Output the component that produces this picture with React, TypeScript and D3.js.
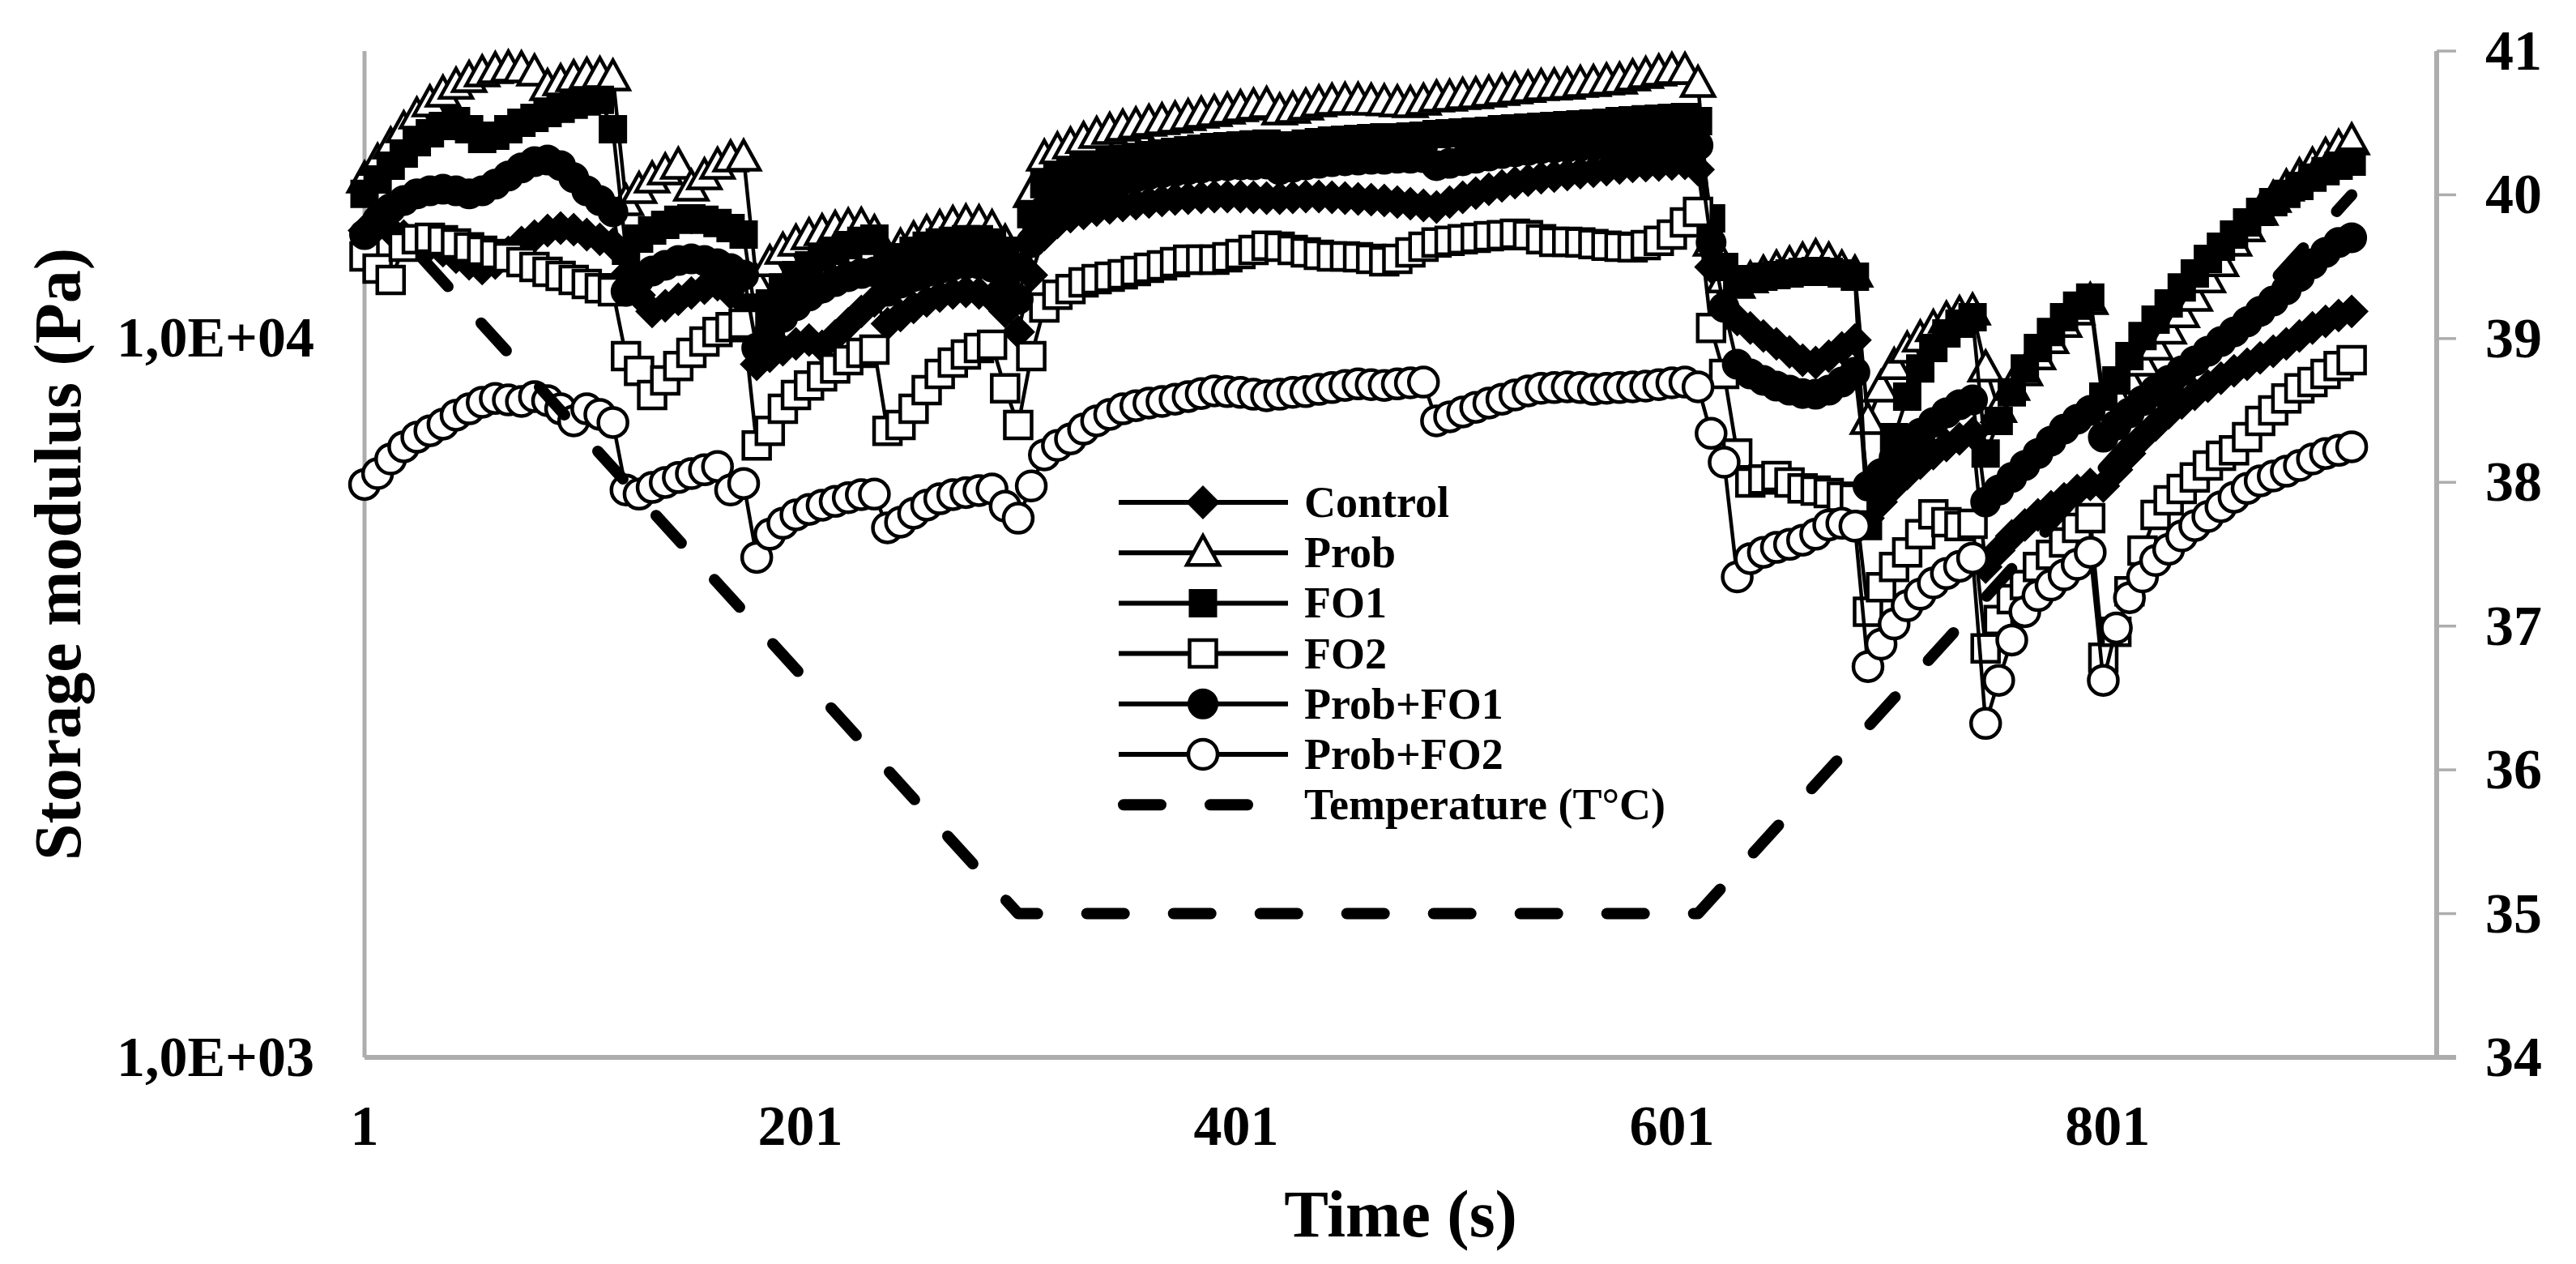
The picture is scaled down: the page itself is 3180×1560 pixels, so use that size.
import React from 'react';
import * as d3 from 'd3';

// ---------- DATA ----------
// Measurement grid: one point every 6 s starting at t = 1 s (153 points)
const time: number[] = d3.range(153).map((i) => 1 + 6 * i);

const control: number[] = [
  14080, 14270, 14080, 13830, 13620, 13440, 13200, 12930, 12660, 12470,
  12690, 13130, 13550, 13830, 14080, 14190, 14120, 13900, 13690, 13480,
  12210, 11450, 10870, 11070, 11300, 11530, 11710, 11840, 11530, 11240,
  9180, 9420, 9620, 9800, 9920, 9720, 10050, 10450, 10870, 11240,
  10450, 10730, 11010, 11240, 11420, 11530, 11590, 11530, 11360, 10870,
  10180, 12210, 13900, 14450, 14720, 14870, 15030, 15140, 15260, 15340,
  15420, 15500, 15580, 15620, 15660, 15700, 15700, 15700, 15660, 15620,
  15620, 15660, 15700, 15700, 15660, 15620, 15580, 15540, 15500, 15420,
  15340, 15260, 15180, 15420, 15660, 15870, 16070, 16240, 16410, 16540,
  16670, 16760, 16850, 16940, 17020, 17110, 17200, 17290, 17330, 17370,
  17420, 17460, 17110, 12530, 10730, 10590, 10310, 10050, 9800, 9550,
  9300, 9230, 9420, 9670, 9920, 5610, 5910, 6220, 6470, 6690,
  6900, 7080, 7230, 7360, 4800, 5060, 5300, 5490, 5670, 5820,
  5970, 6130, 6250, 6220, 6550, 6900, 7270, 7560, 7860, 8110,
  8340, 8560, 8780, 8990, 9180, 9370, 9570, 9800, 10050, 10310,
  10530, 10730, 10870,
];

const prob: number[] = [
  16580, 17550, 18490, 19470, 20350, 21160, 21820, 22390, 22870, 23290,
  23530, 23650, 23590, 23350, 22280, 22630, 22930, 23110, 23170, 22990,
  15420, 16030, 16580, 17020, 17330, 16160, 16760, 17330, 17740, 17780,
  11900, 12690, 13200, 13550, 13830, 14010, 14160, 14270, 14300, 13970,
  12930, 13370, 13690, 13970, 14190, 14380, 14450, 14420, 14190, 13550,
  12860, 15830, 17780, 18200, 18490, 18820, 19120, 19370, 19570, 19720,
  19880, 19980, 20090, 20240, 20400, 20510, 20670, 20830, 20940, 21050,
  20620, 20730, 20940, 21160, 21270, 21330, 21330, 21270, 21220, 21160,
  21110, 21270, 21490, 21540, 21660, 21710, 21820, 21940, 22050, 22160,
  22280, 22330, 22390, 22510, 22570, 22690, 22750, 22990, 23170, 23350,
  23470, 23470, 22510, 13550, 12050, 11840, 12050, 12270, 12470, 12630,
  12790, 12930, 12790, 12470, 12270, 7660, 8500, 9130, 9620, 9970,
  10310, 10590, 10780, 10870, 9060, 7960, 8540, 8950, 9420, 9920,
  10450, 10870, 11240, 8065, 8280, 8720, 9230, 9720, 10230, 10780,
  11360, 12050, 12690, 13550, 14190, 14950, 15580, 16160, 16760, 17330,
  17880, 18350, 18730,
];

const fo1: number[] = [
  15830, 16580, 17330, 18010, 18680, 19220, 19670, 19980, 19470, 18870,
  19070, 19470, 19880, 20190, 20510, 20780, 21050, 21270, 21380, 19470,
  13200, 13720, 14080, 14340, 14570, 14640, 14570, 14420, 14190, 13900,
  10450, 11150, 11740, 12210, 12600, 12930, 13200, 13440, 13620, 13720,
  12530, 12930, 13200, 13410, 13550, 13620, 13690, 13690, 13550, 13200,
  12530, 14840, 16330, 16760, 17020, 17200, 17370, 17550, 17690, 17820,
  17920, 18010, 18110, 18200, 18300, 18390, 18440, 18490, 18540, 18590,
  18390, 18490, 18590, 18680, 18780, 18820, 18870, 18920, 18970, 18970,
  19020, 19070, 19170, 19220, 19270, 19320, 19370, 19470, 19520, 19570,
  19620, 19670, 19720, 19770, 19820, 19880, 19980, 20030, 20090, 20140,
  20190, 20240, 19980, 14640, 12530, 11900, 12050, 12150, 12210, 12270,
  12340, 12370, 12340, 12270, 12150, 5470, 6220, 7270, 8280, 9060,
  9670, 10130, 10450, 10670, 6900, 7660, 8390, 9060, 9670, 10180,
  10670, 11070, 11360, 8280, 8720, 9420, 10050, 10590, 11150, 11740,
  12270, 12860, 13370, 13900, 14450, 14950, 15420, 15830, 16240, 16670,
  17020, 17330, 17550,
];

const fo2: number[] = [
  12960, 12470, 12020, 13370, 13690, 13760, 13650, 13510, 13340, 13200,
  13060, 12930, 12730, 12530, 12340, 12180, 12020, 11870, 11710, 11590,
  9420, 8990, 8320, 8720, 9130, 9520, 9870, 10180, 10340, 10450,
  7080, 7420, 7960, 8320, 8580, 8830, 9060, 9300, 9520, 9620,
  7420, 7560, 7960, 8450, 8900, 9230, 9470, 9670, 9770, 8500,
  7560, 9420, 11010, 11470, 11680, 11930, 12050, 12150, 12240, 12370,
  12500, 12600, 12730, 12830, 12830, 12830, 12930, 13060, 13230, 13410,
  13370, 13230, 13130, 13030, 12960, 12960, 12930, 12860, 12760, 12860,
  13130, 13370, 13550, 13620, 13690, 13760, 13830, 13870, 13940, 13870,
  13690, 13580, 13580, 13550, 13480, 13410, 13370, 13340, 13440, 13620,
  13900, 14450, 14950, 10310, 8900, 6900, 6290, 6350, 6420, 6290,
  6170, 6130, 6080, 6010, 5970, 4160, 4500, 4800, 5030, 5330,
  5680, 5540, 5470, 5510, 3700, 4050, 4330, 4530, 4800, 4990,
  5190, 5440, 5610, 3590, 3900, 4440, 5060, 5670, 5940, 6160,
  6390, 6640, 6850, 6970, 7270, 7660, 7920, 8230, 8500, 8670,
  8900, 9130, 9300,
];

const probFo1: number[] = [
  13900, 14570, 15110, 15500, 15830, 15990, 16070, 15990, 15830, 15990,
  16330, 16760, 17200, 17550, 17640, 17330, 16670, 15990, 15500, 14950,
  11590, 12050, 12370, 12600, 12790, 12860, 12790, 12660, 12470, 12210,
  9670, 10180, 10670, 11070, 11420, 11710, 11960, 12150, 12270, 12340,
  11590, 11900, 12150, 12340, 12470, 12600, 12660, 12660, 12530, 12050,
  11300, 13550, 15030, 15500, 15830, 16030, 16240, 16410, 16580, 16710,
  16850, 16940, 17020, 17110, 17200, 17290, 17330, 17370, 17370, 17420,
  17110, 17240, 17370, 17460, 17550, 17600, 17640, 17690, 17690, 17740,
  17740, 17780, 17330, 17460, 17600, 17740, 17870, 18010, 18110, 18200,
  18300, 18350, 18390, 18440, 18490, 18540, 18590, 18630, 18680, 18730,
  18780, 18820, 18490, 13550, 11010, 9180, 8900, 8720, 8560, 8450,
  8360, 8340, 8450, 8670, 8950, 6220, 6470, 6810, 7120, 7360,
  7620, 7860, 8065, 8190, 5910, 6140, 6390, 6640, 6900, 7180,
  7460, 7700, 7920, 7270, 7560, 7860, 8170, 8450, 8720, 8990,
  9280, 9570, 9870, 10180, 10510, 10870, 11240, 11650, 12150, 12660,
  13130, 13550, 13760,
];

const probFo2: number[] = [
  6250, 6470, 6780, 7050, 7270, 7420, 7580, 7800, 7960, 8130,
  8230, 8190, 8150, 8280, 8170, 7960, 7660, 7960, 7820, 7620,
  6140, 6060, 6190, 6290, 6390, 6470, 6550, 6620, 6140, 6270,
  4950, 5330, 5520, 5670, 5770, 5850, 5920, 5990, 6050, 6060,
  5440, 5540, 5700, 5850, 5970, 6050, 6090, 6130, 6160, 5830,
  5610, 6220, 6870, 7080, 7230, 7460, 7660, 7820, 7960, 8040,
  8110, 8150, 8210, 8280, 8360, 8430, 8410, 8390, 8340, 8300,
  8340, 8390, 8410, 8470, 8520, 8580, 8620, 8600, 8580, 8620,
  8650, 8670, 7660, 7760, 7880, 8000, 8110, 8210, 8320, 8430,
  8500, 8520, 8540, 8520, 8470, 8500, 8520, 8540, 8560, 8600,
  8650, 8670, 8540, 7360, 6710, 4650, 4930, 5030, 5110, 5160,
  5230, 5330, 5490, 5520, 5470, 3490, 3750, 4000, 4240, 4400,
  4560, 4700, 4810, 4940, 2910, 3340, 3800, 4160, 4380, 4530,
  4680, 4840, 5030, 3340, 3950, 4350, 4650, 4900, 5080, 5300,
  5480, 5640, 5820, 6000, 6170, 6320, 6420, 6520, 6640, 6780,
  6900, 6970, 7050,
];

// Temperature program (secondary axis)
const tempTime: number[] = [1, 301, 613, 913];
const tempValues: number[] = [40, 35, 35, 40];

// Axis ticks
const xTicks: number[] = [1, 201, 401, 601, 801];
const yTicks: number[] = [1000, 10000];
const yTickLabels: string[] = ['1,0E+03', '1,0E+04'];
const tTicks: number[] = [34, 35, 36, 37, 38, 39, 40, 41];

const seriesNames: string[] = ['Control', 'Prob', 'FO1', 'FO2', 'Prob+FO1', 'Prob+FO2'];
const seriesMarkers: string[] = ['diamond', 'triangle', 'square', 'square', 'circle', 'circle'];
const seriesFilled: boolean[] = [true, false, true, false, true, false];
const seriesValues: number[][] = [control, prob, fo1, fo2, probFo1, probFo2];
const tempName = 'Temperature (T°C)';

// ---------- LAYOUT ----------
const W = 3180;
const H = 1560;
const PL = 450;
const PR = 3008;
const PT = 63;
const PB = 1305;
const FONT = '"Liberation Serif", "Times New Roman", serif';
const AXIS_GRAY = '#ADADAD';

const x = d3.scaleLinear().domain([1, 952]).range([PL, PR]);
const y = d3.scaleLog().domain([1000, 25000]).range([PB, PT]);
const yT = d3.scaleLinear().domain([34, 41]).range([PB, PT]);

function Marker({ kind, filled, cx, cy }: { kind: string; filled: boolean; cx: number; cy: number }) {
  const fill = filled ? '#000' : '#fff';
  const sw = filled ? 2 : 4.5;
  const common = { fill, stroke: '#000', strokeWidth: sw, strokeLinejoin: 'miter' as const };
  if (kind === 'circle') return <circle cx={cx} cy={cy} r={18} {...common} />;
  let d = '';
  if (kind === 'diamond') {
    const s = 19.5;
    d = `M0,${-s}L${s},0L0,${s}L${-s},0Z`;
  } else if (kind === 'triangle') {
    const s = 21;
    d = `M0,${-s}L${s * 0.95},${s * 0.72}L${-s * 0.95},${s * 0.72}Z`;
  } else {
    const s = 16.5;
    d = `M${-s},${-s}H${s}V${s}H${-s}Z`;
  }
  return <path d={d} transform={`translate(${cx},${cy})`} {...common} />;
}

export default function App() {
  const line = d3
    .line<[number, number]>()
    .x((d) => x(d[0]))
    .y((d) => y(d[1]));
  const tLine = d3
    .line<[number, number]>()
    .x((d) => x(d[0]))
    .y((d) => yT(d[1]));

  const legendX0 = 1381;
  const legendX1 = 1590;
  const legendMid = 1485;
  const legendTop = 620;
  const legendStep = 62.2;

  return (
    <svg
      width={W}
      height={H}
      viewBox={`0 0 ${W} ${H}`}
      style={{ position: 'absolute', left: 0, top: 0, background: '#fff', fontFamily: FONT }}
    >
      <rect x={0} y={0} width={W} height={H} fill="#fff" />

      {/* axes */}
      <line x1={PL} y1={PT} x2={PL} y2={PB} stroke={AXIS_GRAY} strokeWidth={5} />
      <line x1={PR} y1={PT} x2={PR} y2={PB} stroke={AXIS_GRAY} strokeWidth={6} />
      <line x1={PL} y1={PB} x2={PR + 24} y2={PB} stroke={AXIS_GRAY} strokeWidth={6} />
      {tTicks.map((t) => (
        <line key={'tt' + t} x1={PR} x2={PR + 24} y1={yT(t)} y2={yT(t)} stroke={AXIS_GRAY} strokeWidth={3.5} />
      ))}

      {/* series */}
      {seriesValues.map((vals, si) => {
        const pts: [number, number][] = vals.map((v, i) => [time[i], v]);
        return (
          <g key={seriesNames[si]}>
            <path d={line(pts) || ''} fill="none" stroke="#000" strokeWidth={4.5} strokeLinejoin="round" />
            {pts.map((p, i) => (
              <Marker key={i} kind={seriesMarkers[si]} filled={seriesFilled[si]} cx={x(p[0])} cy={y(p[1])} />
            ))}
          </g>
        );
      })}

      {/* temperature */}
      <path
        d={tLine(tempTime.map((t, i) => [t, tempValues[i]] as [number, number])) || ''}
        fill="none"
        stroke="#000"
        strokeWidth={14}
        strokeDasharray="46 61"
        strokeLinecap="round"
        strokeLinejoin="round"
      />

      {/* tick labels */}
      {yTicks.map((v, i) => (
        <text key={'yl' + v} x={388} y={y(v) + 23} textAnchor="end" fontSize={70} fontWeight="bold" fill="#000">
          {yTickLabels[i]}
        </text>
      ))}
      {tTicks.map((t) => (
        <text key={'tl' + t} x={3068} y={yT(t) + 23} textAnchor="start" fontSize={70} fontWeight="bold" fill="#000">
          {t}
        </text>
      ))}
      {xTicks.map((t) => (
        <text key={'xl' + t} x={x(t)} y={1413} textAnchor="middle" fontSize={70} fontWeight="bold" fill="#000">
          {t}
        </text>
      ))}

      {/* axis titles */}
      <text x={(PL + PR) / 2} y={1526} textAnchor="middle" fontSize={82} fontWeight="bold" fill="#000">
        Time (s)
      </text>
      <text
        transform={`translate(99,${(PT + PB) / 2}) rotate(-90)`}
        textAnchor="middle"
        fontSize={82}
        fontWeight="bold"
        fill="#000"
      >
        Storage modulus (Pa)
      </text>

      {/* legend */}
      {seriesNames.map((name, si) => {
        const ly = legendTop + si * legendStep;
        return (
          <g key={'lg' + name}>
            <line x1={legendX0} x2={legendX1} y1={ly} y2={ly} stroke="#000" strokeWidth={6} />
            <Marker kind={seriesMarkers[si]} filled={seriesFilled[si]} cx={legendMid} cy={ly} />
            <text x={1610} y={ly + 18} fontSize={54} fontWeight="bold" fill="#000">
              {name}
            </text>
          </g>
        );
      })}
      <g>
        <line
          x1={legendX0 + 6}
          x2={legendX1 - 40}
          y1={legendTop + 6 * legendStep}
          y2={legendTop + 6 * legendStep}
          stroke="#000"
          strokeWidth={14}
          strokeDasharray="46 61"
          strokeLinecap="round"
        />
        <text x={1610} y={legendTop + 6 * legendStep + 18} fontSize={54} fontWeight="bold" fill="#000">
          {tempName}
        </text>
      </g>
    </svg>
  );
}
